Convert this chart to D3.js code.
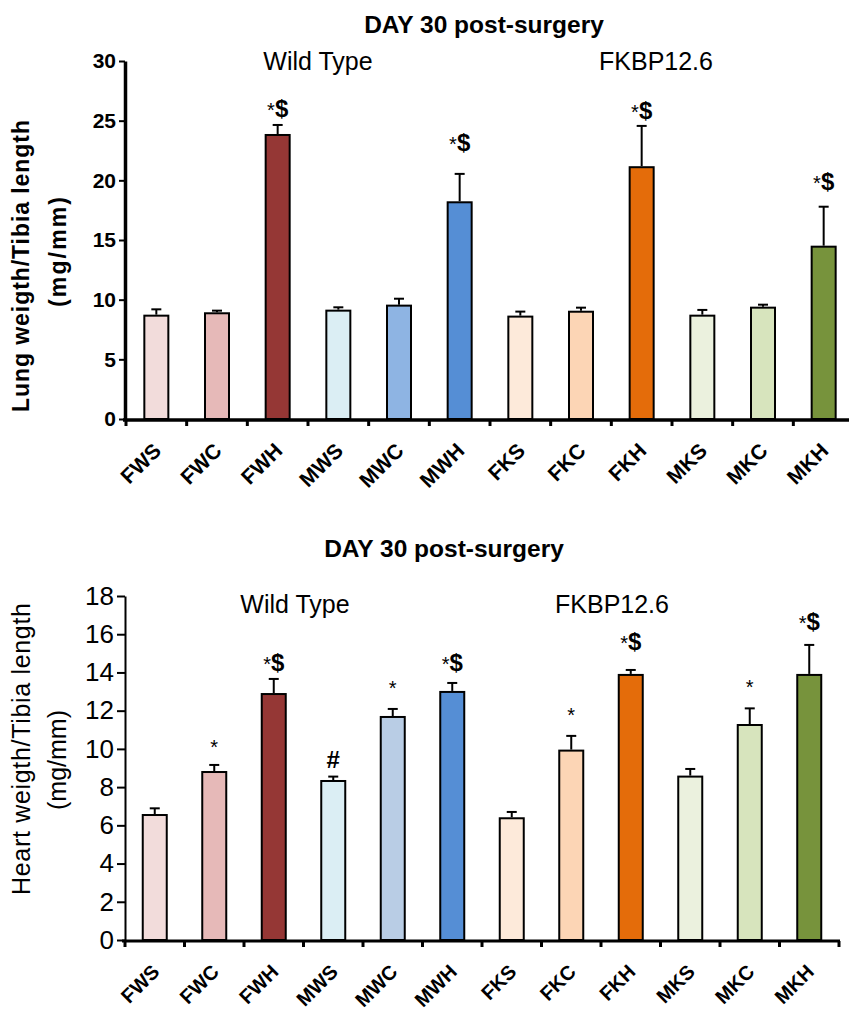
<!DOCTYPE html>
<html>
<head>
<meta charset="utf-8">
<script src="https://cdn.jsdelivr.net/npm/d3@7"></script>
<style>
  body { margin: 0; background: #fff; }
  svg { display: block; font-family: "Liberation Sans", Arial, sans-serif; }
</style>
</head>
<body>
<svg id="chart" width="849" height="1013"></svg>
<script>
// groups on the x axis (same for both panels)
const categories = ['FWS', 'FWC', 'FWH', 'MWS', 'MWC', 'MWH', 'FKS', 'FKC', 'FKH', 'MKS', 'MKC', 'MKH'];

// lung weight / tibia length (mg/mm)
const lungMean = [8.66, 8.86, 23.8, 9.08, 9.5, 18.16, 8.58, 8.99, 21.1, 8.66, 9.33, 14.44];
const lungErr = [0.53, 0.22, 0.84, 0.28, 0.58, 2.38, 0.42, 0.34, 3.46, 0.48, 0.25, 3.35];
const lungMarks = ['', '', '*$', '', '', '*$', '', '', '*$', '', '', '*$'];
const lungMarkAt = [0, 0, 25.3, 0, 0, 22.5, 0, 0, 25.1, 0, 0, 19.2];
const lungTicks = [0, 5, 10, 15, 20, 25, 30];

// heart weight / tibia length (mg/mm)
const heartMean = [6.54, 8.79, 12.87, 8.32, 11.67, 12.98, 6.37, 9.91, 13.87, 8.55, 11.25, 13.87];
const heartErr = [0.35, 0.37, 0.79, 0.23, 0.42, 0.47, 0.33, 0.77, 0.26, 0.4, 0.87, 1.57];
const heartMarks = ['', '*', '*$', '#', '*', '*$', '', '*', '*$', '', '*', '*$'];
const heartMarkAt = [0, 9.75, 14.1, 9.0, 12.8, 14.1, 0, 11.4, 15.2, 0, 12.85, 16.2];
const heartTicks = [0, 2, 4, 6, 8, 10, 12, 14, 16, 18];

const lungColors = ['#F2DCDB', '#E6B9B8', '#953735', '#DBEEF4', '#8EB4E3', '#558ED5',
                    '#FDEADA', '#FCD5B5', '#E46C0A', '#EBF1DE', '#D7E4BD', '#77933C'];
const heartColors = ['#F2DCDB', '#E6B9B8', '#953735', '#DBEEF4', '#B9CDE5', '#558ED5',
                     '#FDEADA', '#FCD5B5', '#E46C0A', '#EBF1DE', '#D7E4BD', '#77933C'];

const svg = d3.select('#chart');

function drawPanel(o) {
  const g = svg.append('g');
  const x = d3.scaleBand().domain(categories).range(o.xRange);
  const y = d3.scaleLinear().domain([0, o.max]).range(o.yRange);
  const barW = 24;

  // bars
  g.selectAll('.bar')
    .data(categories)
    .enter().append('rect')
    .attr('class', 'bar')
    .attr('x', d => x(d) + x.bandwidth() / 2 - barW / 2)
    .attr('y', (d, i) => y(o.mean[i]))
    .attr('width', barW)
    .attr('height', (d, i) => y(0) - y(o.mean[i]))
    .attr('fill', (d, i) => o.colors[i])
    .attr('stroke', '#000')
    .attr('stroke-width', 2);

  // upper error whiskers
  const err = g.selectAll('.err')
    .data(categories)
    .enter().append('g')
    .attr('class', 'err')
    .attr('stroke', '#000')
    .attr('stroke-width', 2);
  err.append('line')
    .attr('x1', d => x(d) + x.bandwidth() / 2)
    .attr('x2', d => x(d) + x.bandwidth() / 2)
    .attr('y1', (d, i) => y(o.mean[i]) - 1)
    .attr('y2', (d, i) => y(o.mean[i] + o.err[i]));
  err.append('line')
    .attr('x1', d => x(d) + x.bandwidth() / 2 - 5)
    .attr('x2', d => x(d) + x.bandwidth() / 2 + 5)
    .attr('y1', (d, i) => y(o.mean[i] + o.err[i]))
    .attr('y2', (d, i) => y(o.mean[i] + o.err[i]));

  // significance marks
  categories.forEach((c, i) => {
    const m = o.marks[i];
    if (!m) return;
    const t = g.append('text')
      .attr('x', x(c) + x.bandwidth() / 2)
      .attr('y', y(o.markAt[i]))
      .attr('text-anchor', 'middle')
      .attr('fill', '#000');
    for (const ch of m) {
      const s = t.append('tspan').text(ch);
      if (ch === '*') s.attr('font-size', 20);
      else s.attr('font-size', 24).attr('font-weight', 'bold');
    }
  });

  // y axis
  const yAxis = g.append('g')
    .attr('transform', `translate(${o.yAxisX},0)`)
    .call(d3.axisLeft(y).tickValues(o.ticks).tickSize(o.yTickLen).tickSizeOuter(0).tickPadding(3));
  yAxis.select('.domain').attr('stroke-width', o.yAxisW);
  yAxis.selectAll('.tick line').attr('stroke-width', 2);
  yAxis.selectAll('.tick text')
    .attr('font-size', o.yFont)
    .attr('font-weight', o.yBold ? 'bold' : 'normal')
    .attr('fill', '#000')
    .attr('font-family', '"Liberation Sans", Arial, sans-serif');

  // x axis: line plus ticks at band edges
  const x0 = o.xRange[0], x1 = o.xRange[1];
  const axY = y(0) + 1;
  g.append('line')
    .attr('x1', x0 - 3).attr('x2', x1 + 1)
    .attr('y1', axY).attr('y2', axY)
    .attr('stroke', '#000').attr('stroke-width', o.xAxisW);
  const edges = categories.map(c => x(c)).concat([x1]);
  g.selectAll('.xtick')
    .data(edges)
    .enter().append('line')
    .attr('x1', d => d).attr('x2', d => d)
    .attr('y1', axY).attr('y2', axY + 6)
    .attr('stroke', '#000').attr('stroke-width', 3);

  g.selectAll('.xlab')
    .data(categories)
    .enter().append('text')
    .attr('transform', d => `translate(${x(d) + x.bandwidth() / 2 + 6},${axY + o.labDy}) rotate(-45)`)
    .attr('text-anchor', 'end')
    .attr('font-size', o.labFont)
    .attr('font-weight', 'bold')
    .text(d => d);

  // titles
  g.append('text')
    .attr('x', o.titleX).attr('y', o.titleY)
    .attr('text-anchor', 'middle')
    .attr('font-size', 24.5).attr('font-weight', 'bold')
    .text('DAY 30 post-surgery');
  o.groups.forEach(gr => {
    g.append('text')
      .attr('x', gr.x).attr('y', gr.y)
      .attr('text-anchor', 'middle')
      .attr('font-size', 25)
      .text(gr.label);
  });

  // y axis title (two lines)
  g.append('text')
    .attr('transform', `translate(${o.yt1.x},${o.yt1.y}) rotate(-90)`)
    .attr('text-anchor', 'middle')
    .attr('font-size', o.ytFont)
    .attr('font-weight', o.ytBold ? 'bold' : 'normal')
    .attr('textLength', o.yt1.len).attr('lengthAdjust', 'spacing')
    .text(o.yt1.text);
  g.append('text')
    .attr('transform', `translate(${o.yt2.x},${o.yt2.y}) rotate(-90)`)
    .attr('text-anchor', 'middle')
    .attr('font-size', o.ytFont)
    .attr('font-weight', o.ytBold ? 'bold' : 'normal')
    .attr('textLength', o.yt2.len).attr('lengthAdjust', 'spacing')
    .text('(mg/mm)');
}

drawPanel({
  mean: lungMean, err: lungErr, marks: lungMarks, markAt: lungMarkAt,
  colors: lungColors, ticks: lungTicks, max: 30,
  xRange: [126, 854], yRange: [419, 61],
  yAxisX: 125, yAxisW: 3.5, xAxisW: 3.5, yTickLen: 6, yFont: 21, yBold: true,
  labDy: 32, labFont: 21,
  titleX: 484, titleY: 33,
  groups: [{label: 'Wild Type', x: 318, y: 70}, {label: 'FKBP12.6', x: 656, y: 70}],
  ytFont: 23, ytBold: true,
  yt1: {text: 'Lung weigth/Tibia length', x: 29, y: 266, len: 292},
  yt2: {x: 66, y: 252, len: 110}
});

drawPanel({
  mean: heartMean, err: heartErr, marks: heartMarks, markAt: heartMarkAt,
  colors: heartColors, ticks: heartTicks, max: 18,
  xRange: [125, 839], yRange: [940, 596],
  yAxisX: 125, yAxisW: 2, xAxisW: 3, yTickLen: 8, yFont: 26, yBold: false,
  labDy: 32, labFont: 20,
  titleX: 444, titleY: 557,
  groups: [{label: 'Wild Type', x: 295, y: 613}, {label: 'FKBP12.6', x: 612, y: 613}],
  ytFont: 25, ytBold: false,
  yt1: {text: 'Heart weigth/Tibia length', x: 30, y: 749, len: 292},
  yt2: {x: 66, y: 760, len: 100}
});
</script>
</body>
</html>
